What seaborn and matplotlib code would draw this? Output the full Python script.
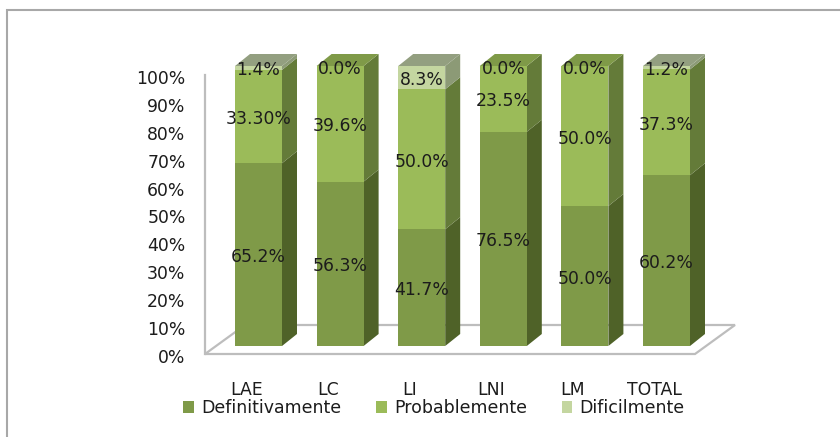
import matplotlib
matplotlib.use("Agg")
import matplotlib.pyplot as plt
from matplotlib.lines import Line2D
from matplotlib.patches import Patch, Polygon
from matplotlib.transforms import ScaledTranslation
import numpy as np
import seaborn as sns

categories = ["LAE", "LC", "LI", "LNI", "LM", "TOTAL"]
definitivamente = [65.2, 56.3, 41.7, 76.5, 50.0, 60.2]
probablemente = [33.3, 39.6, 50.0, 23.5, 50.0, 37.3]
dificilmente = [1.4, 0.0, 8.3, 0.0, 0.0, 1.2]
labels_def = ["65.2%", "56.3%", "41.7%", "76.5%", "50.0%", "60.2%"]
labels_pro = ["33.30%", "39.6%", "50.0%", "23.5%", "50.0%", "37.3%"]
labels_dif = ["1.4%", "0.0%", "8.3%", "0.0%", "0.0%", "1.2%"]
y_ticks = [0, 10, 20, 30, 40, 50, 60, 70, 80, 90, 100]
series_names = ["Definitivamente", "Probablemente", "Dificilmente"]

W, H = 840, 437
FONT = 12.4
TEXT = "#1c1c1c"
front = ["#7F9A48", "#9BBB59", "#C4D6A0"]
side = ["#4F6228", "#647B39", "#8C9A76"]
top = ["#6E8A3A", "#7F9A48", "#939F80"]
GRID = "#BDBDBD"

sns.set_theme(style="white")
plt.rcParams["font.family"] = ["DejaVu Sans"]
fig = plt.figure(figsize=(W / 100, H / 100), dpi=100, facecolor="white")


def rect(l, t, r, b):
    return [l / W, 1 - b / H, (r - l) / W, (b - t) / H]


# outer frame: only the top and left edges show in the picture
fig.add_artist(Line2D([7 / W, 7 / W, 1], [0, 1 - 10 / H, 1 - 10 / H], transform=fig.transFigure,
                      color="#A8A8A8", linewidth=1.5, solid_joinstyle="miter"))

# walls / floor and value axis
frame = fig.add_axes(rect(205, 75, 695, 354), facecolor="none")
frame.set_xlim(0, 1)
frame.set_ylim(0, 100)
frame.set_xticks([])
frame.set_yticks(y_ticks)
frame.set_yticklabels([f"{v}%" for v in y_ticks], fontsize=FONT, color=TEXT)
frame.tick_params(axis="y", length=0, pad=14)
down = ScaledTranslation(0, -2 / 100, fig.dpi_scale_trans)
for t in frame.get_yticklabels():
    t.set_transform(t.get_transform() + down)
for s in ["top", "right", "bottom"]:
    frame.spines[s].set_visible(False)
frame.spines["left"].set_color(GRID)
frame.spines["left"].set_linewidth(1.6)
dx_f, dy_f = 40 / 490, 29 / 279 * 100
frame.add_patch(Polygon([(0, 0), (1, 0), (1 + dx_f, dy_f), (dx_f, dy_f)], closed=True, fill=False,
                        edgecolor=GRID, linewidth=1.6, clip_on=False))

# bars
ax = fig.add_axes(rect(258.5 - 40.8, 66, 258.5 + 5.5 * 81.6, 346), facecolor="none")
raw = np.array([definitivamente, probablemente, dificilmente], dtype=float)
shares = raw / raw.sum(axis=0) * 100
bottoms = np.vstack([np.zeros(raw.shape[1]), np.cumsum(shares, axis=0)[:-1]])
bar_w = 47 / 81.6
for vals, base, col in zip(shares, bottoms, front):
    sns.barplot(x=categories, y=vals, bottom=base, color=col, saturation=1, width=bar_w,
                ax=ax, linewidth=0, zorder=3)
ax.set_xlim(-0.5, 5.5)
ax.set_ylim(0, 100)
ax.set_yticks([])
ax.set_ylabel("")
for s in ax.spines.values():
    s.set_visible(False)

dx, dy = 15 / 81.6, 12 / 280 * 100
for i in range(len(categories)):
    r = i + bar_w / 2
    l = i - bar_w / 2
    for j in range(3):
        b0, b1 = bottoms[j, i], bottoms[j, i] + shares[j, i]
        if shares[j, i] > 0:
            ax.add_patch(Polygon([(r, b0), (r + dx, b0 + dy), (r + dx, b1 + dy), (r, b1)], closed=True,
                                 facecolor=side[j], edgecolor="none", clip_on=False, zorder=2))
            last = j
    ax.add_patch(Polygon([(l, 100), (r, 100), (r + dx, 100 + dy), (l + dx, 100 + dy)], closed=True,
                         facecolor=top[last], edgecolor="none", clip_on=False, zorder=2))

for container, labs in zip(ax.containers, [labels_def, labels_pro, labels_dif]):
    for t in ax.bar_label(container, labels=labs, label_type="center", fontsize=FONT, color=TEXT, zorder=6):
        t.xyann = (0, -1.8)

ax.tick_params(axis="x", length=0, pad=25)
ax.set_xticks(range(len(categories)))
ax.set_xticklabels(categories, fontsize=FONT, color=TEXT)
shift = ScaledTranslation(-12 / 100, 0, fig.dpi_scale_trans)
for t in ax.get_xticklabels():
    t.set_transform(t.get_transform() + shift)

handles = [Patch(facecolor=c, edgecolor="none") for c in front]
fig.legend(handles, series_names, ncols=3, loc="center left", bbox_to_anchor=(183 / W, 1 - 408 / H),
           frameon=False, fontsize=12.5, labelcolor=TEXT, handlelength=0.62, handleheight=0.62,
           handletextpad=0.42, columnspacing=2.0, borderpad=0, borderaxespad=0)

fig.savefig("out.png", dpi=100, facecolor="white")
